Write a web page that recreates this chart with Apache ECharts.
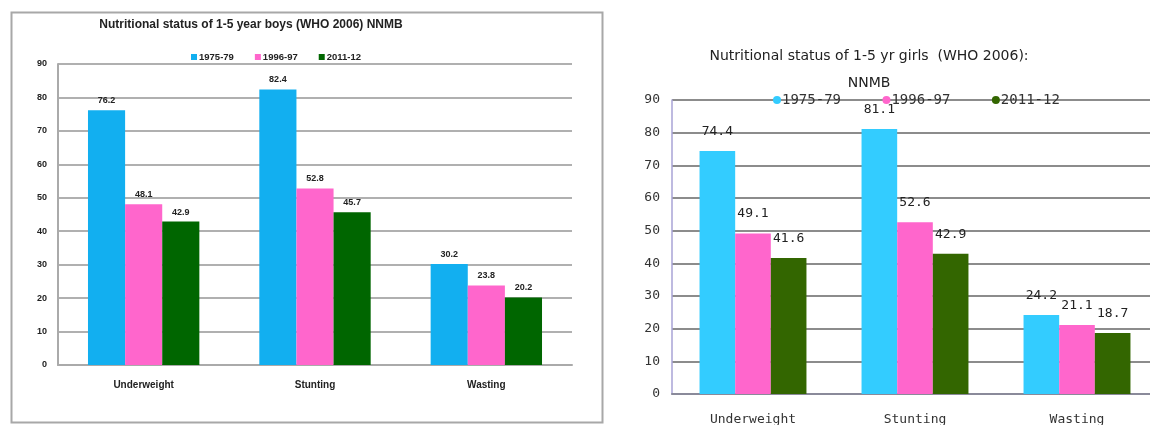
<!DOCTYPE html>
<html><head><meta charset="utf-8">
<script src="https://cdn.jsdelivr.net/npm/echarts@6/dist/echarts.min.js"></script>
<style>html,body{margin:0;padding:0;background:#fff}#c{width:1150px;height:425px}</style>
</head><body><div id="c"></div>
<script>
const categories = ['Underweight', 'Stunting', 'Wasting'];
const seriesNames = ['1975-79', '1996-97', '2011-12'];
const boys1975 = [76.2, 82.4, 30.2];
const boys1996 = [48.1, 52.8, 23.8];
const boys2011 = [42.9, 45.7, 20.2];
const girls1975 = [74.4, 81.1, 24.2];
const girls1996 = [49.1, 52.6, 21.1];
const girls2011 = [41.6, 42.9, 18.7];
const boysTitle = 'Nutritional status of 1-5 year boys (WHO 2006) NNMB';
const girlsTitle = 'Nutritional status of 1-5 yr girls  (WHO 2006):\nNNMB';

const boyColors = ['#12AFF0', '#FF66CC', '#006600'];
const girlColors = ['#33CCFF', '#FF66CC', '#336600'];
const F = 'Liberation Sans, Arial, sans-serif';
const M = 'DejaVu Sans Mono, monospace';

const chart = echarts.init(document.getElementById('c'), null, {renderer: 'canvas'});

function mk(name, data, color, idx, small) {
  return {
    name: name, type: 'bar', data: data, xAxisIndex: idx, yAxisIndex: idx,
    itemStyle: {color: color},
    barGap: '0%', barCategoryGap: small ? '35%' : '34%',
    label: {
      show: true, position: 'top', distance: small ? 5 : 13,
      color: '#222', fontFamily: small ? F : M,
      fontSize: small ? 9 : 13, fontWeight: small ? 'bold' : 'normal',
      formatter: p => p.value.toFixed(1)
    }
  };
}

chart.setOption({
  animation: false,
  backgroundColor: '#fff',
  graphic: [{
    type: 'rect', shape: {x: 11.5, y: 12.5, width: 591, height: 410},
    style: {fill: 'none', stroke: '#a8a8a8', lineWidth: 2}, z: -1
  }],
  title: [
    {text: boysTitle, left: 246, top: 14, textAlign: 'center',
     textStyle: {fontFamily: F, fontSize: 12, fontWeight: 'bold', color: '#222'}},
    {text: girlsTitle, left: 864, top: 38, textAlign: 'center',
     textStyle: {fontFamily: 'DejaVu Sans, sans-serif', fontSize: 14, fontWeight: 'normal', color: '#222', lineHeight: 27}}
  ],
  legend: [
    {data: seriesNames.map((n, i) => ({name: n, itemStyle: {color: boyColors[i]}})),
     left: 186, top: 47, itemWidth: 6, itemHeight: 6, itemGap: 21, icon: 'rect',
     textStyle: {fontFamily: F, fontSize: 9.5, fontWeight: 'bold', color: '#222', padding: [0, 0, 0, -3]},
     selectedMode: false},
    {data: seriesNames.map((n, i) => ({name: n + ' ', itemStyle: {color: girlColors[i]}})),
     left: 768, top: 88, itemWidth: 8, itemHeight: 8, itemGap: 33, icon: 'circle',
     textStyle: {fontFamily: M, fontSize: 14, color: '#333', padding: [0, 0, 0, -4]},
     selectedMode: false}
  ],
  grid: [
    {left: 58, right: 578, top: 64, bottom: 60, containLabel: false, outerBoundsMode: 'none'},
    {left: 672, width: 486, top: 100, bottom: 31, containLabel: false, outerBoundsMode: 'none'}
  ],
  xAxis: [
    {type: 'category', data: categories, gridIndex: 0,
     axisLine: {show: true, lineStyle: {color: '#aaa', width: 2}}, axisTick: {show: false},
     axisLabel: {fontFamily: F, fontSize: 10, fontWeight: 'bold', color: '#222', margin: 15}},
    {type: 'category', data: categories, gridIndex: 1,
     axisLine: {show: true, lineStyle: {color: '#8a8a9a', width: 2}}, axisTick: {show: false},
     axisLabel: {fontFamily: M, fontSize: 13, color: '#333', margin: 19}}
  ],
  yAxis: [
    {type: 'value', gridIndex: 0, min: 0, max: 90, interval: 10,
     axisLine: {show: true, lineStyle: {color: '#aaa', width: 2}}, axisTick: {show: false},
     splitLine: {lineStyle: {color: '#b0b0b0', width: 2}},
     axisLabel: {fontFamily: F, fontSize: 9, fontWeight: 'bold', color: '#222', margin: 11}},
    {type: 'value', gridIndex: 1, min: 0, max: 90, interval: 10,
     axisLine: {show: true, lineStyle: {color: '#a9a3d6', width: 1.5}}, axisTick: {show: false},
     splitLine: {lineStyle: {color: '#8c8c8c', width: 2}},
     axisLabel: {fontFamily: M, fontSize: 13, color: '#333', margin: 12}}
  ],
  series: [
    mk('1975-79', boys1975, boyColors[0], 0, true),
    mk('1996-97', boys1996, boyColors[1], 0, true),
    mk('2011-12', boys2011, boyColors[2], 0, true),
    mk('1975-79 ', girls1975, girlColors[0], 1, false),
    mk('1996-97 ', girls1996, girlColors[1], 1, false),
    mk('2011-12 ', girls2011, girlColors[2], 1, false)
  ]
});
</script></body></html>
